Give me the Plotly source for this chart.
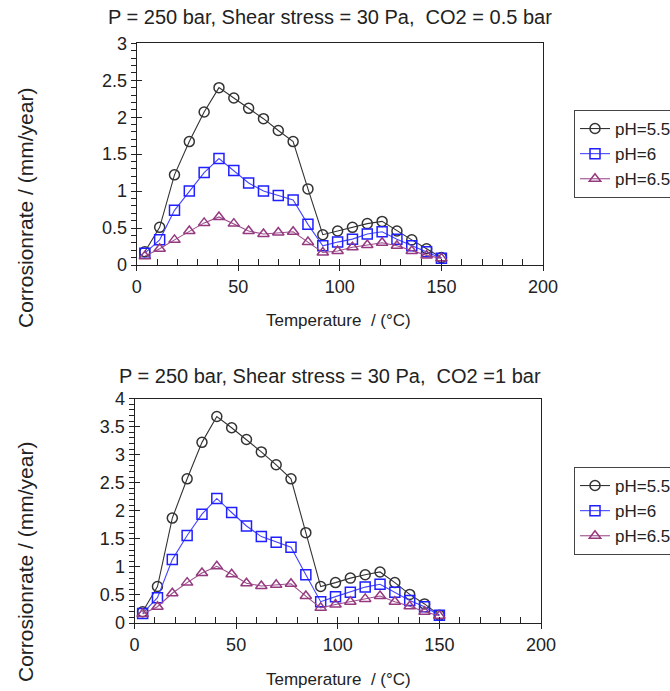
import plotly.graph_objects as go

temperature = [4, 11.3, 18.6, 25.9, 33.2, 40.5, 47.8, 55.1, 62.4, 69.7, 77.0,
               84.3, 91.6, 98.9, 106.2, 113.5, 120.8, 128.1, 135.4, 142.7, 150.0]

# CO2 = 0.5 bar
top_ph55 = [0.18, 0.51, 1.22, 1.67, 2.07, 2.40, 2.26, 2.12, 1.98, 1.82, 1.67,
            1.03, 0.41, 0.46, 0.51, 0.56, 0.59, 0.46, 0.34, 0.22, 0.10]
top_ph6 = [0.16, 0.34, 0.74, 1.00, 1.25, 1.44, 1.28, 1.11, 1.00, 0.94, 0.88,
           0.55, 0.26, 0.31, 0.35, 0.42, 0.45, 0.35, 0.26, 0.18, 0.09]
top_ph65 = [0.12, 0.22, 0.34, 0.46, 0.57, 0.65, 0.56, 0.46, 0.42, 0.44, 0.45,
            0.31, 0.17, 0.19, 0.24, 0.27, 0.30, 0.26, 0.19, 0.13, 0.09]

# CO2 = 1 bar
bot_ph55 = [0.20, 0.65, 1.87, 2.57, 3.22, 3.68, 3.48, 3.27, 3.05, 2.82, 2.57,
            1.61, 0.65, 0.72, 0.80, 0.86, 0.91, 0.72, 0.51, 0.34, 0.14]
bot_ph6 = [0.17, 0.45, 1.13, 1.56, 1.94, 2.22, 1.97, 1.73, 1.54, 1.44, 1.35,
           0.86, 0.38, 0.47, 0.55, 0.64, 0.69, 0.55, 0.40, 0.29, 0.14]
bot_ph65 = [0.16, 0.29, 0.53, 0.72, 0.89, 1.01, 0.87, 0.71, 0.66, 0.68, 0.70,
            0.48, 0.27, 0.33, 0.38, 0.43, 0.48, 0.38, 0.30, 0.20, 0.13]

series_names = ["pH=5.5", "pH=6", "pH=6.5"]
titles = ["P = 250 bar, Shear stress = 30 Pa,  CO2 = 0.5 bar",
          "P = 250 bar, Shear stress = 30 Pa,  CO2 =1 bar"]
y_title = "Corrosionrate / (mm/year)"
x_title = "Temperature  / (°C)"

FONT = "Liberation Sans, Arial, sans-serif"
W, H = 670, 691
line_colors = ["#333333", "#4444ff", "#9c4f8c"]
marker_colors = ["#333333", "#1f1fff", "#963a80"]
symbols = ["circle-open", "square-open", "triangle-up-open"]

fig = go.Figure()

panels = [
    dict(data=[top_ph55, top_ph6, top_ph65], xa="x", ya="y", legend="legend"),
    dict(data=[bot_ph55, bot_ph6, bot_ph65], xa="x2", ya="y2", legend="legend2"),
]
for p in panels:
    for i, vals in enumerate(p["data"]):
        fig.add_trace(go.Scatter(
            x=temperature, y=vals, name=series_names[i], mode="lines+markers",
            xaxis=p["xa"], yaxis=p["ya"], legend=p["legend"],
            line=dict(color=line_colors[i], width=1.1),
            marker=dict(symbol=symbols[i], size=10, color=marker_colors[i],
                        line=dict(width=1.5, color=marker_colors[i])),
        ))

def px_x(v):
    return v / W

def px_y(v):
    return 1 - v / H

top_x = [px_x(136.7), px_x(543)]
bot_x = [px_x(134.5), px_x(541)]
top_y = [px_y(265), px_y(43.3)]
bot_y = [px_y(623), px_y(398.6)]

tick_font = dict(family=FONT, size=18, color="#222222")

def xaxis(domain, anchor, overlay=None):
    d = dict(domain=domain, anchor=anchor, range=[0, 200], dtick=50, tick0=0,
             showgrid=False, zeroline=False, showline=True, linecolor="#222222",
             linewidth=1, mirror=True, ticks="outside", ticklen=5, tickcolor="#222222",
             tickfont=tick_font,
             minor=dict(ticks="inside", dtick=10, ticklen=6, tickcolor="#222222", showgrid=False))
    if overlay:
        d = dict(domain=domain, anchor=anchor, overlaying=overlay, range=[0, 200], dtick=50,
                 tick0=0, showgrid=False, zeroline=False, showline=False, ticks="inside",
                 ticklen=5, tickcolor="#222222", showticklabels=False)
    return d

def yaxis(domain, anchor, rmax, overlay=None):
    d = dict(domain=domain, anchor=anchor, range=[0, rmax], dtick=0.5, tick0=0,
             showgrid=False, zeroline=False, showline=True, linecolor="#222222",
             linewidth=1, mirror=True, ticks="outside", ticklen=5, tickcolor="#222222",
             tickfont=tick_font,
             minor=dict(ticks="outside", dtick=0.1, ticklen=5, tickcolor="#222222", showgrid=False))
    if overlay:
        d = dict(domain=domain, anchor=anchor, overlaying=overlay, range=[0, rmax], dtick=0.5,
                 tick0=0, showgrid=False, zeroline=False, showline=False, ticks="inside",
                 ticklen=5, tickcolor="#222222", showticklabels=False)
    return d

# dummy empty traces so overlay axes are drawn
for xa, ya in [("x3", "y3"), ("x4", "y4")]:
    fig.add_trace(go.Scatter(x=[None], y=[None], xaxis=xa, yaxis=ya, showlegend=False,
                             hoverinfo="skip"))

legend_style = dict(font=dict(family=FONT, size=17, color="#222222"),
                    bordercolor="#444444", borderwidth=1, bgcolor="white",
                    xanchor="left", yanchor="top", tracegroupgap=0)

annotations = []
for t, ycen in zip(titles, [17, 376]):
    annotations.append(dict(text=t, x=px_x(330), y=px_y(ycen), xref="paper", yref="paper",
                            showarrow=False, xanchor="center", yanchor="middle",
                            font=dict(family=FONT, size=20, color="#222222")))
for ycen in [208, 562]:
    annotations.append(dict(text=y_title, x=px_x(25), y=px_y(ycen), xref="paper", yref="paper",
                            showarrow=False, textangle=-90, xanchor="center", yanchor="middle",
                            font=dict(family=FONT, size=21, color="#222222")))
for ycen in [320, 679]:
    annotations.append(dict(text=x_title, x=px_x(338), y=px_y(ycen), xref="paper", yref="paper",
                            showarrow=False, xanchor="center", yanchor="middle",
                            font=dict(family=FONT, size=17, color="#222222")))

fig.update_layout(
    width=W, height=H, margin=dict(l=0, r=0, t=0, b=0, autoexpand=False),
    paper_bgcolor="white", plot_bgcolor="white",
    font=dict(family=FONT, color="#222222"),
    xaxis=xaxis(top_x, "y"), yaxis=yaxis(top_y, "x", 3),
    xaxis2=xaxis(bot_x, "y2"), yaxis2=yaxis(bot_y, "x2", 4),
    xaxis3=xaxis(top_x, "y3", overlay="x"), yaxis3=yaxis(top_y, "x3", 3, overlay="y"),
    xaxis4=xaxis(bot_x, "y4", overlay="x2"), yaxis4=yaxis(bot_y, "x4", 4, overlay="y2"),
    legend=dict(x=px_x(574), y=px_y(110), **legend_style),
    legend2=dict(x=px_x(574), y=px_y(467), **legend_style),
    annotations=annotations,
    showlegend=True,
)

fig.write_html("out.html")
